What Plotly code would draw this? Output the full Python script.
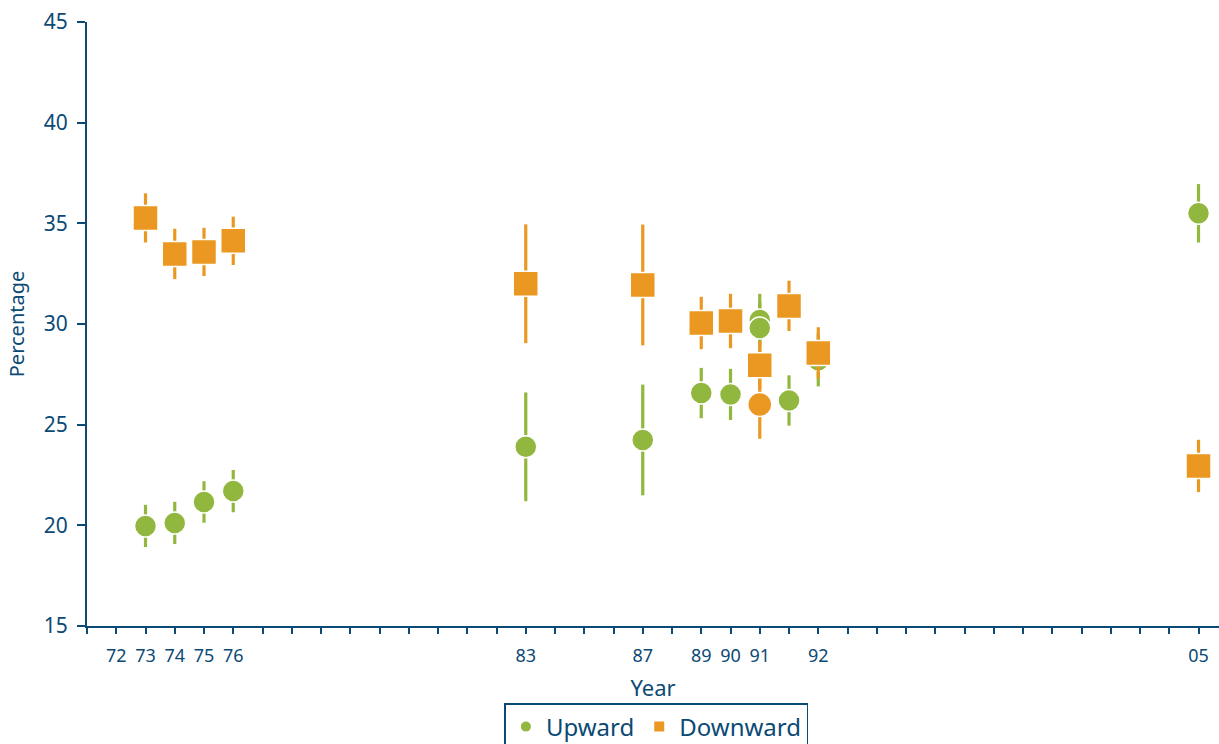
import plotly.graph_objects as go

# Axis slots (evenly spaced category positions) and their year labels
tick_slots = [1, 2, 3, 4, 5, 15, 19, 21, 22, 23, 25, 38]
tick_years = ["72", "73", "74", "75", "76", "83", "87", "89", "90", "91", "92", "05"]
n_slots = 38

# Upward series (green circles)
up_x = [2, 3, 4, 5, 15, 19, 21, 22, 23, 23, 24, 25, 38]
up_y = [19.97, 20.12, 21.16, 21.7, 23.9, 24.24, 26.57, 26.5, 30.2, 29.8, 26.2, 28.2, 35.5]
up_err = [1.05, 1.05, 1.03, 1.05, 2.7, 2.75, 1.25, 1.27, 1.3, 1.3, 1.25, 1.3, 1.45]

# Downward series (orange squares; one circle-shaped point)
down_x = [2, 3, 4, 5, 15, 19, 21, 22, 23, 23, 24, 25, 38]
down_y = [35.27, 33.48, 33.58, 34.13, 32.0, 31.94, 30.05, 30.15, 27.95, 26.0, 30.9, 28.56, 22.95]
down_err = [1.22, 1.25, 1.2, 1.2, 2.95, 3.0, 1.3, 1.35, 1.2, 1.7, 1.25, 1.28, 1.3]
down_shape = ["square"] * 9 + ["circle"] + ["square"] * 3

NAVY = "#0B4A75"
GREEN = "#92B73E"
ORANGE = "#EB9822"
FONT = "Noto Sans"

fig = go.Figure()
fig.add_trace(go.Scatter(
    x=up_x, y=up_y, mode="markers", name="Upward",
    marker=dict(symbol="circle", size=22, color=GREEN, opacity=1,
                line=dict(color="white", width=1.5)),
    error_y=dict(type="data", array=up_err, color=GREEN, thickness=3.2, width=0),
))
fig.add_trace(go.Scatter(
    x=down_x, y=down_y, mode="markers", name="Downward",
    marker=dict(symbol=down_shape, size=[25 if s == "square" else 24 for s in down_shape],
                color=ORANGE, opacity=1, line=dict(color="white", width=1.5)),
    error_y=dict(type="data", array=down_err, color=ORANGE, thickness=3.2, width=0),
))

tickvals = list(range(0, n_slots + 1))
label_map = dict(zip(tick_slots, tick_years))
ticktext = [label_map.get(v, "") for v in tickvals]

fig.update_layout(
    width=1219, height=744,
    margin=dict(l=87, r=0, t=22, b=118, autoexpand=False),
    paper_bgcolor="white", plot_bgcolor="white",
    font=dict(family=FONT, color=NAVY),
    showlegend=True,
    legend=dict(
        orientation="h", x=0.503, xanchor="center", y=-0.1275, yanchor="top",
        bordercolor=NAVY, borderwidth=1.5, itemsizing="constant",
        font=dict(size=24, color=NAVY, family=FONT),
        traceorder="normal", itemwidth=30, tracegroupgap=0,
    ),
    xaxis=dict(
        range=[0, 38.7], tickmode="array", tickvals=tickvals, ticktext=ticktext,
        ticks="outside", ticklen=6, tickwidth=1.5, tickcolor=NAVY,
        showline=True, linecolor=NAVY, linewidth=2, showgrid=False, zeroline=False,
        tickfont=dict(size=18, color=NAVY), ticklabelstandoff=6, automargin=False,
        title=dict(text="Year", font=dict(size=22, color=NAVY), standoff=15),
    ),
    yaxis=dict(
        range=[15, 45], tickvals=[15, 20, 25, 30, 35, 40, 45],
        ticks="outside", ticklen=8, tickwidth=1.5, tickcolor=NAVY,
        showline=True, linecolor=NAVY, linewidth=2, showgrid=False, zeroline=False,
        tickfont=dict(size=21, color=NAVY), ticklabelstandoff=5, automargin=False,
        title=dict(text="Percentage", font=dict(size=20, color=NAVY), standoff=14),
    ),
)

fig.write_html("out.html", config={"displayModeBar": False},
               post_script="document.body.style.margin='0px';")
